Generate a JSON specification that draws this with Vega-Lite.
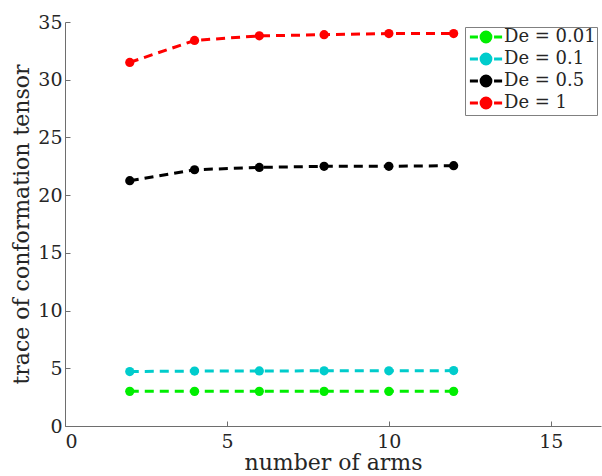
{
  "$schema": "https://vega.github.io/schema/vega-lite/v6.json",
  "width": 536,
  "height": 404,
  "autosize": "none",
  "padding": {"left": 65, "top": 22, "right": 1, "bottom": 50},
  "background": "white",
  "config": {
    "view": {"stroke": null},
    "font": "DejaVu Serif"
  },
  "data": {
    "values": [
      {"arms": 2, "trace": 3.0, "De": "De = 0.01"},
      {"arms": 4, "trace": 3.0, "De": "De = 0.01"},
      {"arms": 6, "trace": 3.0, "De": "De = 0.01"},
      {"arms": 8, "trace": 3.0, "De": "De = 0.01"},
      {"arms": 10, "trace": 3.0, "De": "De = 0.01"},
      {"arms": 12, "trace": 3.0, "De": "De = 0.01"},
      {"arms": 2, "trace": 4.72, "De": "De = 0.1"},
      {"arms": 4, "trace": 4.76, "De": "De = 0.1"},
      {"arms": 6, "trace": 4.77, "De": "De = 0.1"},
      {"arms": 8, "trace": 4.78, "De": "De = 0.1"},
      {"arms": 10, "trace": 4.78, "De": "De = 0.1"},
      {"arms": 12, "trace": 4.8, "De": "De = 0.1"},
      {"arms": 2, "trace": 21.25, "De": "De = 0.5"},
      {"arms": 4, "trace": 22.2, "De": "De = 0.5"},
      {"arms": 6, "trace": 22.4, "De": "De = 0.5"},
      {"arms": 8, "trace": 22.5, "De": "De = 0.5"},
      {"arms": 10, "trace": 22.5, "De": "De = 0.5"},
      {"arms": 12, "trace": 22.55, "De": "De = 0.5"},
      {"arms": 2, "trace": 31.5, "De": "De = 1"},
      {"arms": 4, "trace": 33.4, "De": "De = 1"},
      {"arms": 6, "trace": 33.8, "De": "De = 1"},
      {"arms": 8, "trace": 33.9, "De": "De = 1"},
      {"arms": 10, "trace": 34.0, "De": "De = 1"},
      {"arms": 12, "trace": 34.0, "De": "De = 1"}
    ]
  },
  "encoding": {
    "x": {
      "field": "arms",
      "type": "quantitative",
      "scale": {"domain": [0, 16.55], "nice": false, "zero": false},
      "axis": {
        "title": "number of arms",
        "values": [0, 5, 10, 15],
        "grid": false,
        "domainColor": "#6e6e6e",
        "tickColor": "#6e6e6e",
        "tickSize": -5,
        "labelPadding": 11,
        "labelFontSize": 19,
        "labelColor": "#262626",
        "labelFont": "DejaVu Serif",
        "titleFont": "DejaVu Serif",
        "titleFontSize": 22,
        "titleFontWeight": "normal",
        "titleColor": "#262626",
        "titlePadding": 1
      }
    },
    "y": {
      "field": "trace",
      "type": "quantitative",
      "scale": {"domain": [0, 35], "nice": false},
      "axis": {
        "title": "trace of conformation tensor",
        "values": [0, 5, 10, 15, 20, 25, 30, 35],
        "grid": false,
        "domainColor": "#6e6e6e",
        "tickColor": "#6e6e6e",
        "tickSize": -5,
        "labelPadding": 8,
        "labelFontSize": 19,
        "labelColor": "#262626",
        "labelFont": "DejaVu Serif",
        "titleFont": "DejaVu Serif",
        "titleFontSize": 22,
        "titleFontWeight": "normal",
        "titleColor": "#262626",
        "titlePadding": 4
      }
    },
    "color": {
      "field": "De",
      "type": "nominal",
      "scale": {
        "domain": ["De = 0.01", "De = 0.1", "De = 0.5", "De = 1"],
        "range": ["#00ee00", "#00cccc", "#000000", "#ff0000"]
      },
      "legend": {
        "title": null,
        "orient": "none",
        "legendX": 400,
        "legendY": 5,
        "direction": "vertical",
        "strokeColor": "#808080",
        "fillColor": "white",
        "padding": 1,
        "rowPadding": 0,
        "labelFont": "DejaVu Serif",
        "labelFontSize": 18,
        "labelColor": "#262626",
        "labelOffset": 9,
        "symbolOffset": 11,
        "symbolType": "M-2.3,0H-1.15M1.15,0H2.3M0.7,0A0.7,0.7 0 1 1 -0.7,0A0.7,0.7 0 1 1 0.7,0Z",
        "symbolSize": 196,
        "symbolStrokeWidth": 3,
        "symbolOpacity": 1,
        "encode": {
          "symbols": {
            "update": {
              "fill": {"scale": "color", "field": "value"},
              "stroke": {"scale": "color", "field": "value"}
            }
          }
        }
      }
    }
  },
  "layer": [
    {
      "mark": {"type": "line", "strokeWidth": 3, "strokeDash": [9, 6]}
    },
    {
      "mark": {"type": "point", "filled": true, "shape": "circle", "size": 85, "opacity": 1}
    }
  ]
}
